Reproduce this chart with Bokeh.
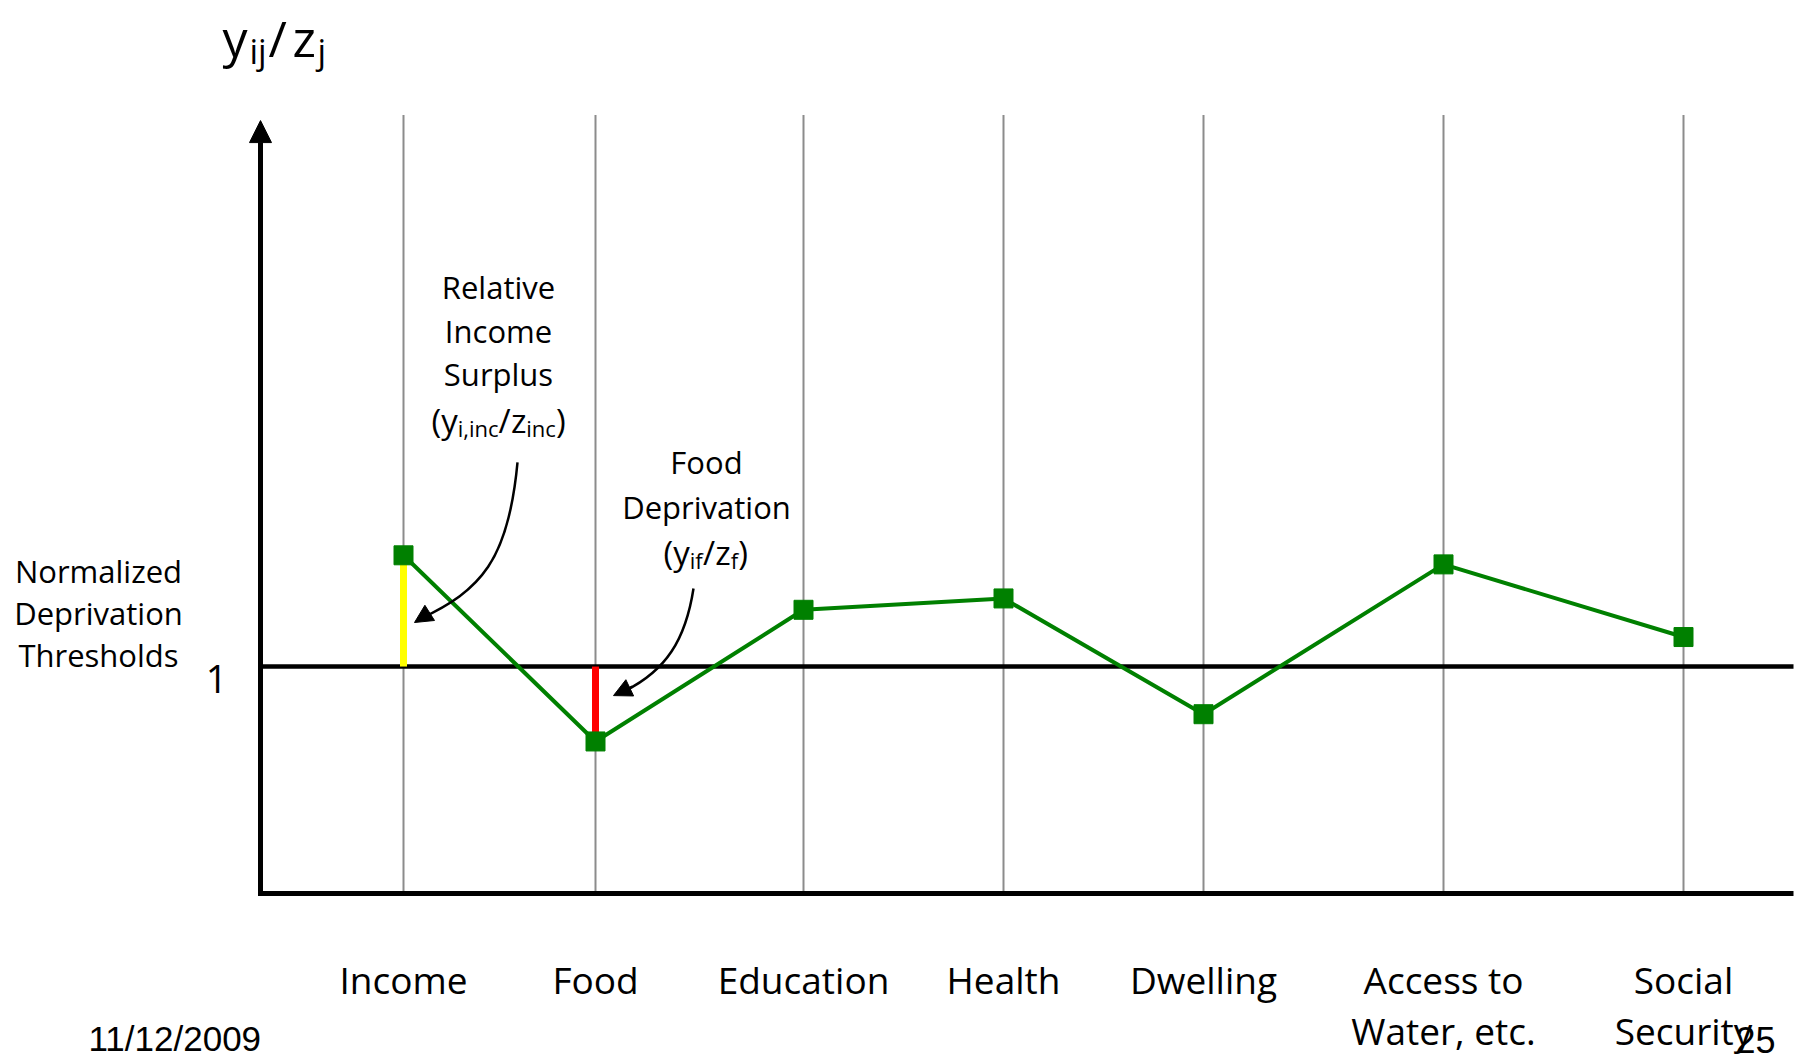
from bokeh.plotting import figure
from bokeh.models import Range1d, ColumnDataSource, Arrow, NormalHead
from bokeh.embed import file_html
from bokeh.resources import INLINE
from bokeh.core.properties import value

# Deprivation dimensions and the normalised achievement y_ij / z_j of one person
categories = ["Income", "Food", "Education", "Health", "Dwelling",
              "Access to\nWater, etc.", "Social\nSecurity"]
ratios = [1.49, 0.67, 1.25, 1.30, 0.79, 1.45, 1.13]
threshold = 1.0
threshold_label = "1"

# horizontal slot of each dimension column (layout)
slots = [0.0, 0.96, 2.0, 3.0, 4.0, 5.2, 6.4]

FONT = "Open Sans"
GREEN = "#008000"

p = figure(width=1803, height=1054,
           x_range=Range1d(-2.015, 7.0), y_range=Range1d(-0.709, 3.934),
           x_axis_type=None, y_axis_type=None,
           output_backend="svg", toolbar_location=None, min_border=0)
p.grid.visible = False
p.outline_line_color = None
p.background_fill_color = "white"
p.border_fill_color = "white"

x_left, x_right = -0.715, 6.95
grid_top = 3.43

# vertical guide lines, one per dimension
p.segment(x0=slots, y0=[0] * len(slots), x1=slots, y1=[grid_top] * len(slots),
          line_color="#8c8c8c", line_width=2)

# normalised deprivation threshold (= 1)
p.segment(x0=[x_left], y0=[threshold], x1=[x_right], y1=[threshold],
          line_color="black", line_width=4.5)

# horizontal base line
p.segment(x0=[x_left - 0.01], y0=[0], x1=[x_right], y1=[0],
          line_color="black", line_width=5)

# vertical axis with arrow head
p.add_layout(Arrow(x_start=x_left, y_start=-0.011, x_end=x_left, y_end=3.405,
                   line_color="black", line_width=5,
                   end=NormalHead(size=22, fill_color="black", line_color="black")))

# surplus (income) and deprivation (food) gaps to the threshold
p.segment(x0=[slots[0]], y0=[threshold], x1=[slots[0]], y1=[ratios[0]],
          line_color="#ffff00", line_width=7)
p.segment(x0=[slots[1]], y0=[threshold], x1=[slots[1]], y1=[ratios[1]],
          line_color="#ff0000", line_width=7)

# individual profile
p.line(slots, ratios, line_color=GREEN, line_width=4)
p.scatter(slots, ratios, marker="square", size=19,
          fill_color=GREEN, line_color=GREEN)

# dimension labels under the base line
first = [c.split("\n")[0] for c in categories]
second = [c.split("\n")[1] if "\n" in c else "" for c in categories]
p.text(x=slots, y=[-0.3785] * len(slots), text=first,
       text_font=value(FONT), text_font_size="37px", text_align="center",
       text_baseline="alphabetic", text_color="black")
p.text(x=slots, y=[-0.604] * len(slots), text=second,
       text_font=value(FONT), text_font_size="37px", text_align="center",
       text_baseline="alphabetic", text_color="black")


def centered_lines(x, ys, lines, size):
    p.text(x=[x] * len(lines), y=ys, text=lines, text_font=value(FONT),
           text_font_size=size, text_align="center",
           text_baseline="alphabetic", text_color="black")


def rich_text(x, y, pieces, main_size, sub_size, sub_drop):
    """Draw text with subscripts: pieces are (text, pixel offset, is_subscript)."""
    for is_sub in (False, True):
        sel = [pc for pc in pieces if pc[2] == is_sub]
        src = ColumnDataSource(dict(x=[x] * len(sel), y=[y] * len(sel),
                                    text=[pc[0] for pc in sel],
                                    dx=[pc[1] for pc in sel]))
        p.text("x", "y", text="text", source=src, x_offset="dx",
               y_offset=sub_drop if is_sub else 0,
               text_font=value(FONT),
               text_font_size=sub_size if is_sub else main_size,
               text_align="left", text_baseline="alphabetic",
               text_color="black")


# axis title y_ij / z_j
rich_text(-0.905, 3.767,
          [("y", 0, False), ("ij", 27, True), ("/", 46, False),
           ("z", 70, False), ("j", 95, True)],
          "50px", "34px", 13)

# threshold caption and tick
centered_lines(-1.525, [1.419, 1.234, 1.053],
               ["Normalized", "Deprivation", "Thresholds"], "31px")
p.text(x=[-0.935], y=[0.943], text=[threshold_label], text_font=value(FONT),
       text_font_size="38px", text_align="center", text_baseline="alphabetic",
       text_color="black")

# income surplus annotation
centered_lines(0.475, [2.670, 2.476, 2.287],
               ["Relative", "Income", "Surplus"], "31px")
rich_text(0.475, 2.084,
          [("(", -67, False), ("y", -57.2, False), ("i,inc", -40.7, True),
           ("/", 0.1, False), ("z", 12.4, False), ("inc", 27.8, True),
           (")", 57.5, False)],
          "33px", "22px", 8)
p.bezier(x0=[0.57], y0=[1.899], x1=[0.085], y1=[1.211],
         cx0=[0.525], cy0=[1.467], cx1=[0.385], cy1=[1.335],
         line_color="black", line_width=2.5)
p.add_layout(Arrow(x_start=0.125, y_start=1.233, x_end=0.055, y_end=1.194,
                   line_color="black", line_width=2.5,
                   end=NormalHead(size=18, fill_color="black", line_color="black")))

# food deprivation annotation
centered_lines(1.515, [1.899, 1.701], ["Food", "Deprivation"], "31px")
rich_text(1.515, 1.503,
          [("(", -43, False), ("y", -33.2, False), ("if", -16.7, True),
           ("/", -3.5, False), ("z", 8.8, False), ("f", 24.2, True),
           (")", 31.8, False)],
          "33px", "22px", 8)
p.bezier(x0=[1.45], y0=[1.344], x1=[1.11], y1=[0.894],
         cx0=[1.41], cy0=[1.115], cx1=[1.31], cy1=[0.982],
         line_color="black", line_width=2.5)
p.add_layout(Arrow(x_start=1.145, y_start=0.912, x_end=1.05, y_end=0.872,
                   line_color="black", line_width=2.5,
                   end=NormalHead(size=18, fill_color="black", line_color="black")))

# slide footer: date and page number
p.text(x=[-1.575], y=[-0.638], text=["11/12/2009"],
       text_font=value("Liberation Sans"), text_font_size="35px",
       text_align="left", text_baseline="alphabetic", text_color="black")
p.text(x=[6.66], y=[-0.643], text=["25"],
       text_font=value("Liberation Sans"), text_font_size="36px",
       text_align="left", text_baseline="alphabetic", text_color="black")

open("out.html", "w").write(file_html(p, INLINE))
